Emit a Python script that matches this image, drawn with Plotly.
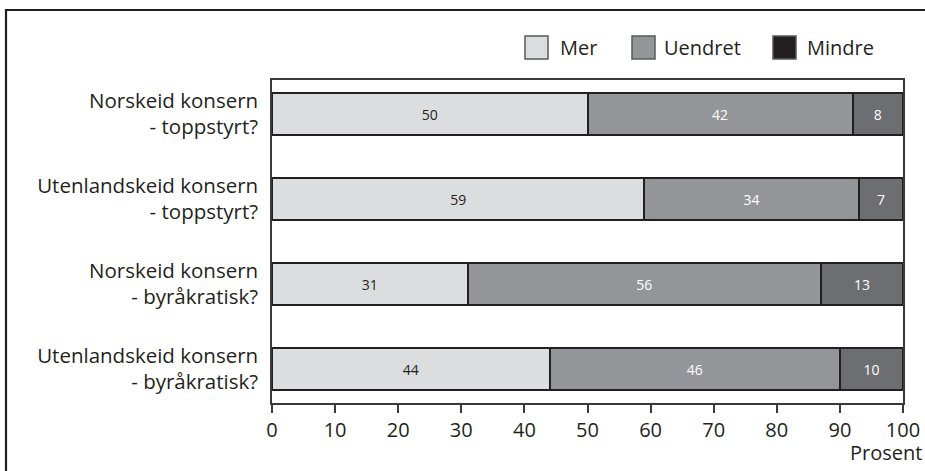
import plotly.graph_objects as go

# Survey data: share answering each option, per question (percent)
categories = [
    "Norskeid konsern<br>- toppstyrt?",
    "Utenlandskeid konsern<br>- toppstyrt?",
    "Norskeid konsern<br>- byråkratisk?",
    "Utenlandskeid konsern<br>- byråkratisk?",
]
series_names = ["Mer", "Uendret", "Mindre"]
mer = [50, 59, 31, 44]
uendret = [42, 34, 56, 46]
mindre = [8, 7, 13, 10]
x_ticks = [0, 10, 20, 30, 40, 50, 60, 70, 80, 90, 100]

values = [mer, uendret, mindre]
bar_colors = ["#dcdddf", "#939598", "#6d6e71"]
legend_colors = ["#dcdddf", "#939598", "#231f20"]
text_colors = ["#231f20", "#ffffff", "#ffffff"]
FONT = "Open Sans"

fig = go.Figure()
for name, vals, col, tcol in zip(series_names, values, bar_colors, text_colors):
    fig.add_trace(go.Bar(
        y=categories, x=vals, name=name, orientation="h",
        marker=dict(color=col, line=dict(color="#231f20", width=2)),
        text=vals, texttemplate="%{x}", textposition="inside",
        insidetextanchor="middle", constraintext="none",
        textfont=dict(family=FONT, size=14, color=tcol),
        width=0.5, showlegend=False,
    ))

# plot area in pixels: left 272, right 903, top 80, bottom 403
L, R, T, B = 272, 903, 80, 403
W, H = R - L, B - T

def px(xp):
    return (xp - L) / W

def py(yp):
    return (B - yp) / H

shapes = []
annotations = []

# outer frame around the figure
shapes.append(dict(type="rect", xref="paper", yref="paper",
                   x0=px(6), x1=px(980), y0=py(500), y1=py(10),
                   line=dict(color="#231f20", width=2.2), layer="above"))

# legend boxes and labels
legend_box_x = [525, 632, 773]
legend_text_x = [558, 662, 805]
for name, col, bx, tx in zip(series_names, legend_colors, legend_box_x, legend_text_x):
    shapes.append(dict(type="rect", xref="paper", yref="paper",
                       x0=px(bx), x1=px(bx + 23), y0=py(59), y1=py(36),
                       fillcolor=col, line=dict(color="#58595b", width=1.5)))
    annotations.append(dict(xref="paper", yref="paper", x=px(tx), y=py(47.5),
                            text=name, showarrow=False, xanchor="left", yanchor="middle",
                            font=dict(family=FONT, size=20, color="#231f20")))

annotations.append(dict(xref="paper", yref="paper", x=px(924), y=py(452),
                        text="Prosent", showarrow=False, xanchor="right", yanchor="middle",
                        font=dict(family=FONT, size=20, color="#231f20")))

fig.update_layout(
    barmode="stack",
    width=925, height=471,
    margin=dict(l=L, r=925 - R, t=T, b=471 - B, pad=0),
    paper_bgcolor="white", plot_bgcolor="white",
    font=dict(family=FONT, color="#231f20"),
    shapes=shapes, annotations=annotations,
    xaxis=dict(range=[0, 100], tickvals=x_ticks, ticktext=[str(v) for v in x_ticks],
               automargin=False,
               showgrid=False, zeroline=False, showline=True, mirror=True,
               linecolor="#3a3a3a", linewidth=1.5,
               ticks="outside", ticklen=8, tickwidth=1.5, tickcolor="#3a3a3a",
               tickfont=dict(family=FONT, size=20, color="#231f20")),
    yaxis=dict(categoryorder="array", categoryarray=categories,
               range=[3.4, -0.4], showgrid=False, zeroline=False, automargin=False,
               showline=True, mirror=True, linecolor="#3a3a3a", linewidth=1.5,
               ticks="", ticklabelstandoff=8,
               tickfont=dict(family=FONT, size=20.5, color="#231f20")),
)

fig.write_html("out.html")
